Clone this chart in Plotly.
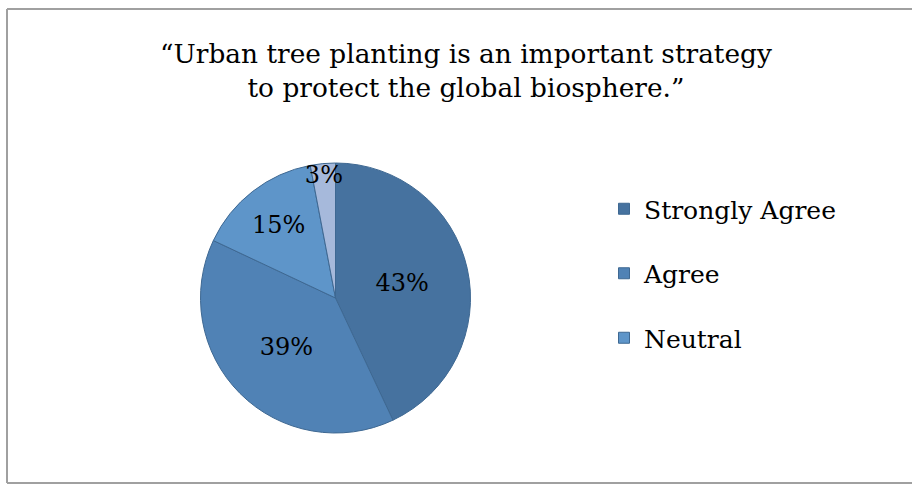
import plotly.graph_objects as go

categories = ["Strongly Agree", "Agree", "Neutral", "Disagree"]
values = [43, 39, 15, 3]
legend_labels = ["Strongly Agree", "Agree", "Neutral"]
colors = ["#46729F", "#5082B5", "#5E95C9", "#A6B9DB"]
title_text = "“Urban tree planting is an important strategy<br>to protect the global biosphere.”"

FONT = "DejaVu Serif"
W, H = 912, 484

fig = go.Figure()
fig.add_trace(go.Pie(
    labels=categories, values=values, sort=False, direction="clockwise", rotation=0,
    marker=dict(colors=colors, line=dict(color="#3E6892", width=1)),
    textinfo="percent", texttemplate="%{percent:.0%}",
    textposition="inside", insidetextorientation="horizontal",
    textfont=dict(family=FONT, size=24, color="black"),
    showlegend=False, hoverinfo="label+percent",
    domain=dict(x=[200 / W, 471 / W], y=[(H - 433) / H, (H - 163) / H]),
))
for lab, col in zip(legend_labels, colors):
    fig.add_trace(go.Scatter(
        x=[None], y=[None], mode="markers", name=lab, legendgroup=lab,
        marker=dict(symbol="square", size=11, color=col, line=dict(color="#3E6892", width=1)),
    ))

border = dict(color="#A0A0A0", width=2)
x_left, y_top, y_bot = 7 / W, 1 - 9 / H, 1 / H
fig.update_layout(
    width=W, height=H,
    margin=dict(l=0, r=0, t=0, b=0),
    paper_bgcolor="white", plot_bgcolor="white",
    xaxis=dict(visible=False), yaxis=dict(visible=False),
    title=dict(text=title_text, x=466 / W, xanchor="center", y=1 - 63 / H, yanchor="top",
               font=dict(family=FONT, size=26.4, color="black")),
    legend=dict(x=604 / W, xanchor="left", y=1 - 186 / H, yanchor="top",
                font=dict(family=FONT, size=25, color="black"),
                traceorder="grouped", tracegroupgap=29, itemwidth=30,
                bgcolor="rgba(0,0,0,0)"),
    uniformtext=dict(minsize=24, mode="show"),
    shapes=[
        dict(type="line", xref="paper", yref="paper", x0=x_left, x1=x_left, y0=y_bot, y1=y_top, line=border),
        dict(type="line", xref="paper", yref="paper", x0=x_left, x1=1.0, y0=y_top, y1=y_top, line=border),
        dict(type="line", xref="paper", yref="paper", x0=x_left, x1=1.0, y0=y_bot, y1=y_bot, line=border),
    ],
)

fig.write_html("out.html", config={"displayModeBar": False},
               post_script="document.body.style.margin='0';")
